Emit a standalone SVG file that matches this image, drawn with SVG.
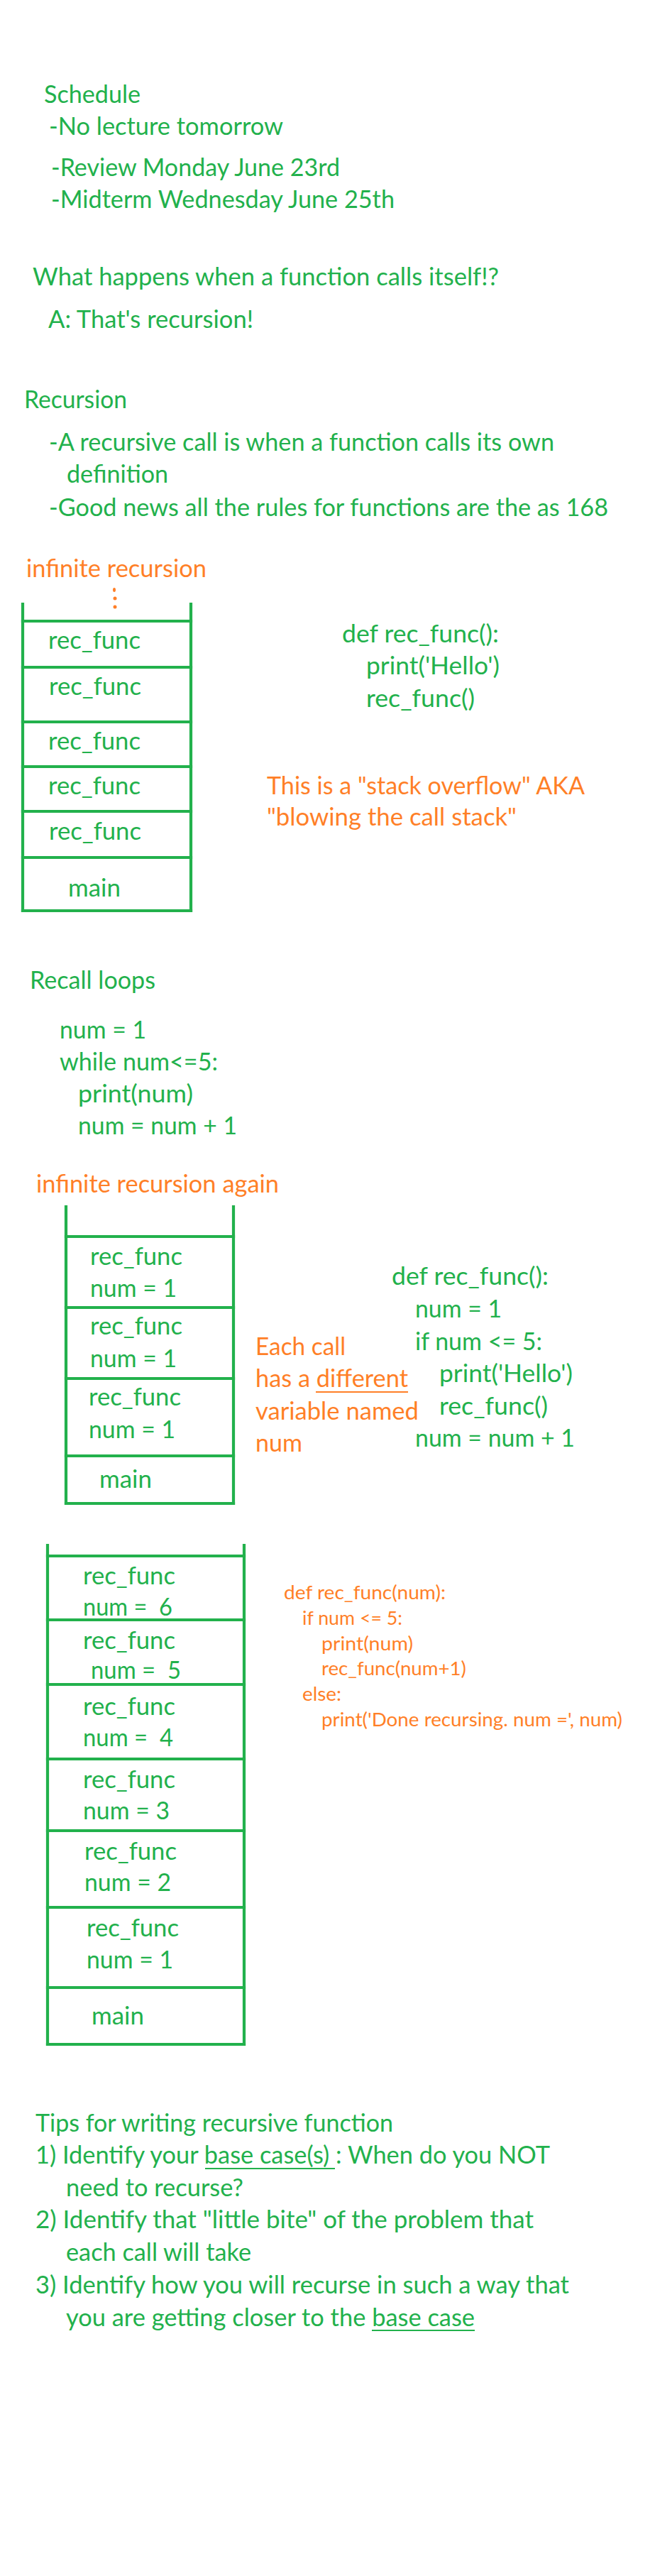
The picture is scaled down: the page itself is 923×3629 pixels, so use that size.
<svg xmlns="http://www.w3.org/2000/svg" width="923" height="3629" viewBox="0 0 923 3629">
<defs>
<style>
text{font-family:Lato,"Liberation Sans",sans-serif;font-size:34px;white-space:pre}
.g{fill:#22B14C}
.o{fill:#FF7F27}
.s{font-size:26.5px}
.ln{stroke:#22B14C;stroke-width:4.2;fill:none;stroke-linecap:square}
.ul{stroke-width:2;fill:none}
.ulg{stroke:#22B14C}
.ulo{stroke:#FF7F27}
</style>
</defs>
<rect width="923" height="3629" fill="#FFFFFF"/>

<g id="schedule">
<text class="g" x="62" y="145" textLength="136" lengthAdjust="spacingAndGlyphs">Schedule</text>
<text class="g" x="69" y="190" textLength="330" lengthAdjust="spacingAndGlyphs">-No lecture tomorrow</text>
<text class="g" x="72" y="248" textLength="407" lengthAdjust="spacingAndGlyphs">-Review Monday June 23rd</text>
<text class="g" x="72" y="293" textLength="484" lengthAdjust="spacingAndGlyphs">-Midterm Wednesday June 25th</text>
</g>

<g id="question">
<text class="g" x="46" y="402" textLength="657" lengthAdjust="spacingAndGlyphs">What happens when a function calls itself!?</text>
<text class="g" x="68" y="462" textLength="289" lengthAdjust="spacingAndGlyphs">A: That's recursion!</text>
</g>

<g id="recursion">
<text class="g" x="34" y="575" textLength="145" lengthAdjust="spacingAndGlyphs">Recursion</text>
<text class="g" x="69" y="635" textLength="712" lengthAdjust="spacingAndGlyphs">-A recursive call is when a function calls its own</text>
<text class="g" x="94" y="680" textLength="143" lengthAdjust="spacingAndGlyphs">definition</text>
<text class="g" x="69" y="727" textLength="788" lengthAdjust="spacingAndGlyphs">-Good news all the rules for functions are the as 168</text>
</g>

<g id="infinite-recursion">
<text class="o" x="37" y="813" textLength="254" lengthAdjust="spacingAndGlyphs">infinite recursion</text>
<g id="dots" fill="#FF7F27">
<ellipse cx="161" cy="831" rx="2" ry="3"/>
<circle cx="162" cy="843" r="2.5"/>
<circle cx="162" cy="855" r="2.5"/>
</g>
</g>

<g id="stack1">
<path class="ln" d="M32 851 V1283 M269 851 V1283"/>
<g id="s1-frame1"><path class="ln" d="M32 875 H269"/><text class="g" x="68" y="914" textLength="130" lengthAdjust="spacingAndGlyphs">rec_func</text></g>
<g id="s1-frame2"><path class="ln" d="M32 940 H269"/><text class="g" x="69" y="979" textLength="130" lengthAdjust="spacingAndGlyphs">rec_func</text></g>
<g id="s1-frame3"><path class="ln" d="M32 1017 H269"/><text class="g" x="68" y="1056" textLength="130" lengthAdjust="spacingAndGlyphs">rec_func</text></g>
<g id="s1-frame4"><path class="ln" d="M32 1080 H269"/><text class="g" x="68" y="1119" textLength="130" lengthAdjust="spacingAndGlyphs">rec_func</text></g>
<g id="s1-frame5"><path class="ln" d="M32 1143 H269"/><text class="g" x="69" y="1183" textLength="130" lengthAdjust="spacingAndGlyphs">rec_func</text></g>
<g id="s1-main"><path class="ln" d="M32 1208 H269 M32 1283 H269"/><text class="g" x="96" y="1263" textLength="74" lengthAdjust="spacingAndGlyphs">main</text></g>
</g>

<g id="code1">
<text class="g" x="482" y="905" textLength="221" lengthAdjust="spacingAndGlyphs">def rec_func():</text>
<text class="g" x="516" y="950" textLength="188" lengthAdjust="spacingAndGlyphs">print('Hello')</text>
<text class="g" x="516" y="996" textLength="153" lengthAdjust="spacingAndGlyphs">rec_func()</text>
</g>

<g id="overflow-note">
<text class="o" x="376" y="1119" textLength="448" lengthAdjust="spacingAndGlyphs">This is a "stack overflow" AKA</text>
<text class="o" x="376" y="1163" textLength="352" lengthAdjust="spacingAndGlyphs">"blowing the call stack"</text>
</g>

<g id="recall-loops">
<text class="g" x="42" y="1393" textLength="177" lengthAdjust="spacingAndGlyphs">Recall loops</text>
<text class="g" x="84" y="1463" textLength="122" lengthAdjust="spacingAndGlyphs">num = 1</text>
<text class="g" x="84" y="1508" textLength="223" lengthAdjust="spacingAndGlyphs">while num&lt;=5:</text>
<text class="g" x="110" y="1553" textLength="162" lengthAdjust="spacingAndGlyphs">print(num)</text>
<text class="g" x="110" y="1598" textLength="224" lengthAdjust="spacingAndGlyphs">num = num + 1</text>
</g>

<g id="infinite-recursion-again">
<text class="o" x="51" y="1680" textLength="342" lengthAdjust="spacingAndGlyphs">infinite recursion again</text>
</g>

<g id="stack2">
<path class="ln" d="M93 1700 V2118 M329 1700 V2118"/>
<g id="s2-frame1"><path class="ln" d="M93 1742 H329"/>
<text class="g" x="127" y="1782" textLength="130" lengthAdjust="spacingAndGlyphs">rec_func</text>
<text class="g" x="127" y="1827" textLength="122" lengthAdjust="spacingAndGlyphs">num = 1</text></g>
<g id="s2-frame2"><path class="ln" d="M93 1842 H329"/>
<text class="g" x="127" y="1880" textLength="130" lengthAdjust="spacingAndGlyphs">rec_func</text>
<text class="g" x="127" y="1926" textLength="122" lengthAdjust="spacingAndGlyphs">num = 1</text></g>
<g id="s2-frame3"><path class="ln" d="M93 1942 H329"/>
<text class="g" x="125" y="1980" textLength="130" lengthAdjust="spacingAndGlyphs">rec_func</text>
<text class="g" x="125" y="2026" textLength="122" lengthAdjust="spacingAndGlyphs">num = 1</text></g>
<g id="s2-main"><path class="ln" d="M93 2051 H329 M93 2118 H329"/>
<text class="g" x="140" y="2096" textLength="74" lengthAdjust="spacingAndGlyphs">main</text></g>
</g>

<g id="each-call-note">
<text class="o" x="360" y="1909" textLength="127" lengthAdjust="spacingAndGlyphs">Each call</text>
<text class="o" x="360" y="1954" textLength="215" lengthAdjust="spacingAndGlyphs">has a different</text>
<line class="ul ulo" x1="445" y1="1961" x2="575" y2="1961"/>
<text class="o" x="360" y="2000" textLength="230" lengthAdjust="spacingAndGlyphs">variable named</text>
<text class="o" x="360" y="2045" textLength="66" lengthAdjust="spacingAndGlyphs">num</text>
</g>

<g id="code2">
<text class="g" x="552" y="1810" textLength="221" lengthAdjust="spacingAndGlyphs">def rec_func():</text>
<text class="g" x="585" y="1856" textLength="122" lengthAdjust="spacingAndGlyphs">num = 1</text>
<text class="g" x="585" y="1902" textLength="179" lengthAdjust="spacingAndGlyphs">if num &lt;= 5:</text>
<text class="g" x="619" y="1947" textLength="188" lengthAdjust="spacingAndGlyphs">print('Hello')</text>
<text class="g" x="619" y="1993" textLength="153" lengthAdjust="spacingAndGlyphs">rec_func()</text>
<text class="g" x="585" y="2038" textLength="225" lengthAdjust="spacingAndGlyphs">num = num + 1</text>
</g>

<g id="stack3">
<path class="ln" d="M67 2177 V2880 M344 2177 V2880"/>
<g id="s3-frame6"><path class="ln" d="M67 2192 H344"/>
<text class="g" x="117" y="2232" textLength="130" lengthAdjust="spacingAndGlyphs">rec_func</text>
<text class="g" x="117" y="2276" textLength="126" lengthAdjust="spacingAndGlyphs">num =  6</text></g>
<g id="s3-frame5"><path class="ln" d="M67 2282 H344"/>
<text class="g" x="117" y="2323" textLength="130" lengthAdjust="spacingAndGlyphs">rec_func</text>
<text class="g" x="128" y="2365" textLength="127" lengthAdjust="spacingAndGlyphs">num =  5</text></g>
<g id="s3-frame4"><path class="ln" d="M67 2373 H344"/>
<text class="g" x="117" y="2416" textLength="130" lengthAdjust="spacingAndGlyphs">rec_func</text>
<text class="g" x="117" y="2460" textLength="127" lengthAdjust="spacingAndGlyphs">num =  4</text></g>
<g id="s3-frame3"><path class="ln" d="M67 2478 H344"/>
<text class="g" x="117" y="2519" textLength="130" lengthAdjust="spacingAndGlyphs">rec_func</text>
<text class="g" x="117" y="2563" textLength="122" lengthAdjust="spacingAndGlyphs">num = 3</text></g>
<g id="s3-frame2"><path class="ln" d="M67 2579 H344"/>
<text class="g" x="119" y="2620" textLength="130" lengthAdjust="spacingAndGlyphs">rec_func</text>
<text class="g" x="119" y="2664" textLength="122" lengthAdjust="spacingAndGlyphs">num = 2</text></g>
<g id="s3-frame1"><path class="ln" d="M67 2687 H344"/>
<text class="g" x="122" y="2728" textLength="130" lengthAdjust="spacingAndGlyphs">rec_func</text>
<text class="g" x="122" y="2773" textLength="122" lengthAdjust="spacingAndGlyphs">num = 1</text></g>
<g id="s3-main"><path class="ln" d="M67 2800 H344 M67 2880 H344"/>
<text class="g" x="129" y="2852" textLength="74" lengthAdjust="spacingAndGlyphs">main</text></g>
</g>

<g id="code3">
<text class="o s" x="400" y="2253" textLength="228" lengthAdjust="spacingAndGlyphs">def rec_func(num):</text>
<text class="o s" x="426" y="2289" textLength="141" lengthAdjust="spacingAndGlyphs">if num &lt;= 5:</text>
<text class="o s" x="453" y="2325" textLength="129" lengthAdjust="spacingAndGlyphs">print(num)</text>
<text class="o s" x="453" y="2360" textLength="204" lengthAdjust="spacingAndGlyphs">rec_func(num+1)</text>
<text class="o s" x="426" y="2396" textLength="55" lengthAdjust="spacingAndGlyphs">else:</text>
<text class="o s" x="453" y="2432" textLength="424" lengthAdjust="spacingAndGlyphs">print('Done recursing. num =', num)</text>
</g>

<g id="tips">
<text class="g" x="50" y="3003" textLength="504" lengthAdjust="spacingAndGlyphs">Tips for writing recursive function</text>
<text class="g" x="50" y="3048" textLength="725" lengthAdjust="spacingAndGlyphs">1) Identify your base case(s) : When do you NOT</text>
<line class="ul ulg" x1="289" y1="3055" x2="472" y2="3055"/>
<text class="g" x="93" y="3094" textLength="250" lengthAdjust="spacingAndGlyphs">need to recurse?</text>
<text class="g" x="50" y="3139" textLength="702" lengthAdjust="spacingAndGlyphs">2) Identify that "little bite" of the problem that</text>
<text class="g" x="93" y="3185" textLength="261" lengthAdjust="spacingAndGlyphs">each call will take</text>
<text class="g" x="50" y="3231" textLength="752" lengthAdjust="spacingAndGlyphs">3) Identify how you will recurse in such a way that</text>
<text class="g" x="93" y="3277" textLength="576" lengthAdjust="spacingAndGlyphs">you are getting closer to the base case</text>
<line class="ul ulg" x1="524" y1="3283" x2="669" y2="3283"/>
</g>
</svg>
